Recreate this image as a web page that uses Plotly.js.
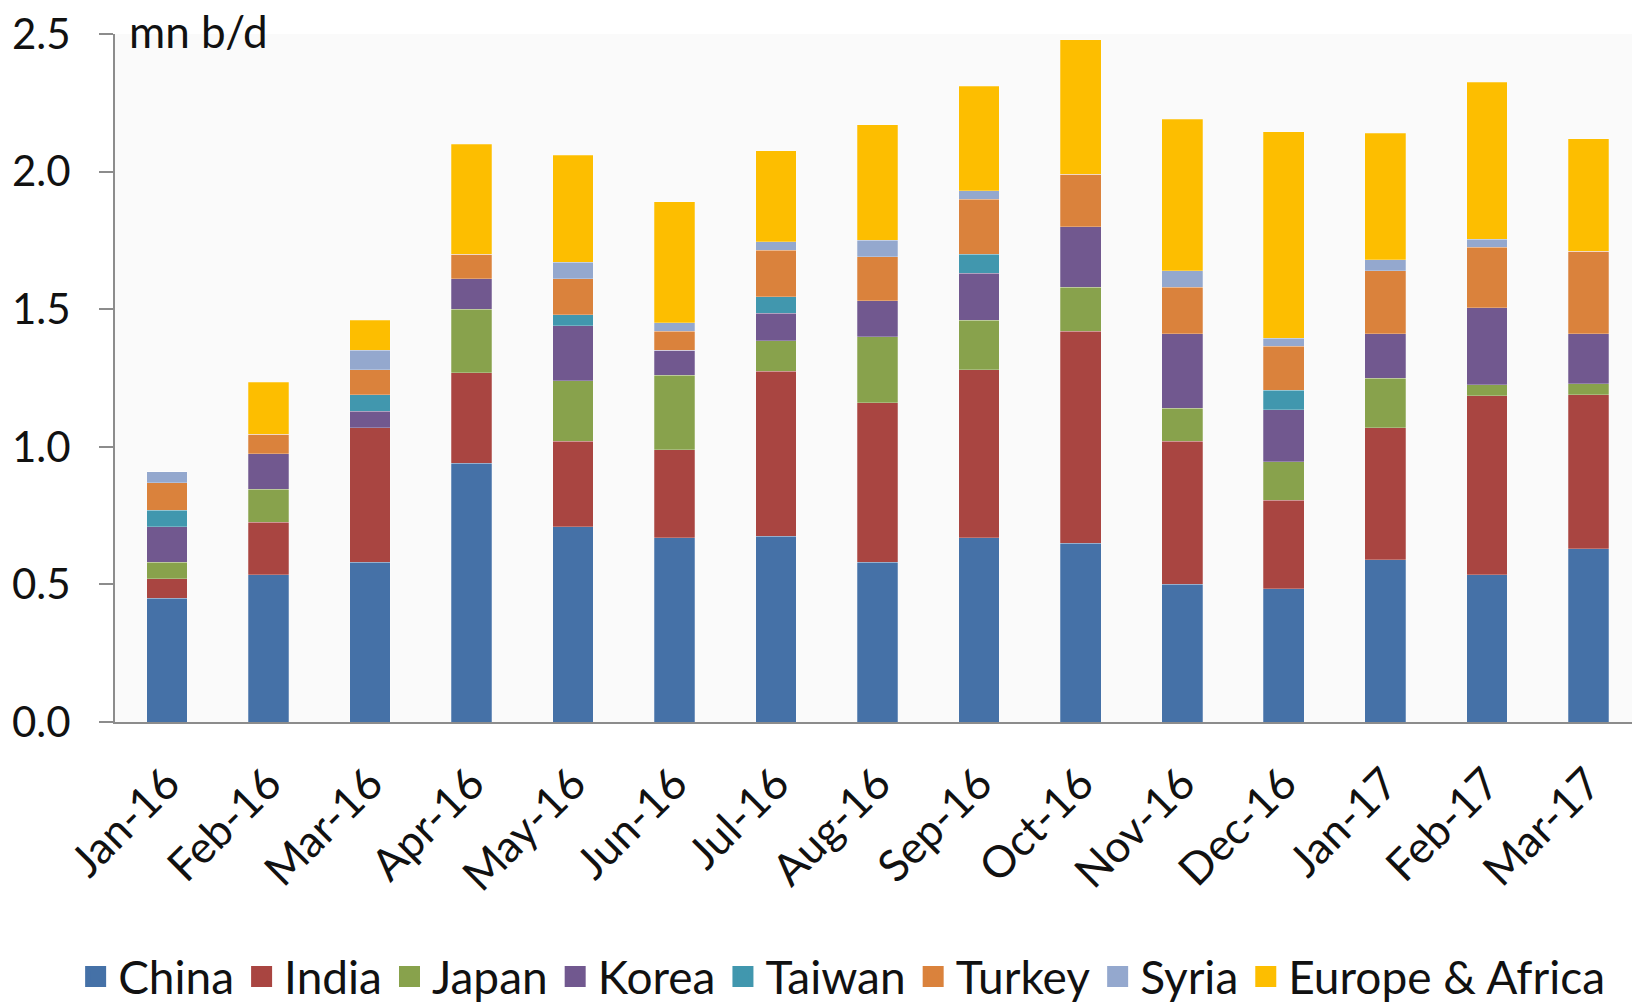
<!DOCTYPE html>
<html>
<head>
<meta charset="utf-8">
<script src="https://cdn.plot.ly/plotly-3.0.1.min.js"></script>
<style>html,body{margin:0;padding:0;background:#fff;}#chart{width:1632px;height:1005px;}</style>
</head>
<body>
<div id="chart"></div>
<script>
const months = ["Jan-16","Feb-16","Mar-16","Apr-16","May-16","Jun-16","Jul-16","Aug-16","Sep-16","Oct-16","Nov-16","Dec-16","Jan-17","Feb-17","Mar-17"];
const china  = [0.45,0.535,0.58,0.94,0.71,0.67,0.675,0.58,0.67,0.65,0.50,0.485,0.59,0.535,0.63];
const india  = [0.07,0.19,0.49,0.33,0.31,0.32,0.60,0.58,0.61,0.77,0.52,0.32,0.48,0.65,0.56];
const japan  = [0.06,0.12,0.00,0.23,0.22,0.27,0.11,0.24,0.18,0.16,0.12,0.14,0.18,0.04,0.04];
const korea  = [0.13,0.13,0.06,0.11,0.20,0.09,0.10,0.13,0.17,0.22,0.27,0.19,0.16,0.28,0.18];
const taiwan = [0.06,0.00,0.06,0.00,0.04,0.00,0.06,0.00,0.07,0.00,0.00,0.07,0.00,0.00,0.00];
const turkey = [0.10,0.07,0.09,0.09,0.13,0.07,0.17,0.16,0.20,0.19,0.17,0.16,0.23,0.22,0.30];
const syria  = [0.04,0.00,0.07,0.00,0.06,0.03,0.03,0.06,0.03,0.00,0.06,0.03,0.04,0.03,0.00];
const europe = [0.00,0.19,0.11,0.40,0.39,0.44,0.33,0.42,0.38,0.49,0.55,0.75,0.46,0.57,0.41];
const yTicks = [0,0.5,1.0,1.5,2.0,2.5];

const series = [
  {name:"China", y:china, color:"#4571A7"},
  {name:"India", y:india, color:"#A94541"},
  {name:"Japan", y:japan, color:"#88A24C"},
  {name:"Korea", y:korea, color:"#71588F"},
  {name:"Taiwan", y:taiwan, color:"#4197AE"},
  {name:"Turkey", y:turkey, color:"#DA823C"},
  {name:"Syria", y:syria, color:"#94A8CE"},
  {name:"Europe & Africa", y:europe, color:"#FDBE00"}
];

const FONT = "Lato, 'Open Sans', sans-serif";
const TXT = "#111111";
const bars = series.map(s => ({
  type:"bar", name:s.name, x:months, y:s.y, legendgroup:s.name, showlegend:false,
  marker:{color:s.color, line:{color:"rgba(255,255,255,0.5)", width:0.5}},
  hoverinfo:"name+y"
}));
// legend-only entries (larger square swatches)
const legendItems = series.map(s => ({
  type:"scatter", mode:"markers", name:s.name, x:[null], y:[null], legendgroup:s.name,
  marker:{symbol:"square", color:s.color, size:16, line:{color:s.color, width:5}},
  hoverinfo:"skip"
}));

const layout = {
  width:1632, height:1005,
  barmode:"stack", bargap:0.6,
  paper_bgcolor:"#ffffff", plot_bgcolor:"#fafafa",
  margin:{l:115, r:0, t:34, b:283, autoexpand:false},
  font:{family:FONT, color:TXT, size:44},
  xaxis:{
    tickangle:-45, showline:true, linecolor:"#8c8c8c", linewidth:2,
    ticks:"outside", ticklen:16, tickcolor:"rgba(0,0,0,0)",
    tickfont:{size:44, family:FONT, color:TXT}, showgrid:false, range:[-0.512,14.43]
  },
  yaxis:{
    range:[0,2.5], tickvals:yTicks, tickformat:".1f", showgrid:false, zeroline:false,
    showline:true, linecolor:"#8c8c8c", linewidth:2, ticks:"outside", ticklen:14,
    tickcolor:"#8c8c8c", tickwidth:2, tickfont:{size:42, family:FONT, color:TXT},
    ticklabelstandoff:20
  },
  legend:{orientation:"h", x:-0.0276, xanchor:"left", y:-0.423, yanchor:"bottom",
    bgcolor:"rgba(0,0,0,0)",
    font:{size:46, family:FONT, color:TXT}, traceorder:"normal", itemwidth:35, tracegroupgap:0},
  annotations:[{text:"mn b/d", xref:"paper", yref:"paper", x:0.008, y:1.0, yshift:3, xanchor:"left", yanchor:"middle",
    showarrow:false, font:{size:44, family:FONT, color:TXT}}],
  showlegend:true
};

Plotly.newPlot("chart", bars.concat(legendItems), layout, {displayModeBar:false, staticPlot:true});
</script>
</body>
</html>
